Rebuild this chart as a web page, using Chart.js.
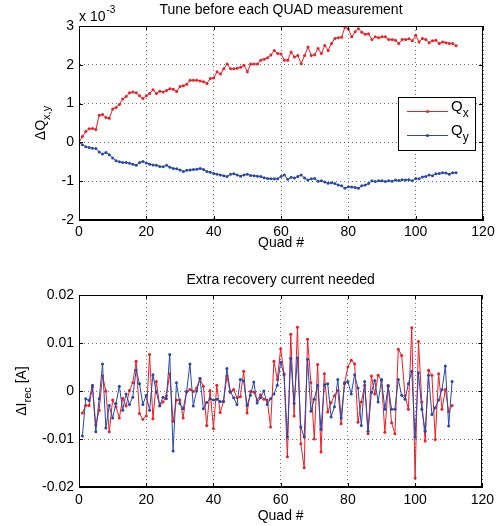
<!DOCTYPE html>
<html>
<head>
<meta charset="utf-8">
<script src="https://cdn.jsdelivr.net/npm/chart.js@4.4.1/dist/chart.umd.min.js"></script>
<style>
html, body { margin: 0; padding: 0; background: #fff; }
#wrap { position: relative; width: 499px; height: 526px; }
#wrap canvas { position: absolute; left: 0; }
</style>
</head>
<body>
<div id="wrap">
  <canvas id="tuneChart" width="499" height="263" style="top:0"></canvas>
  <canvas id="currentChart" width="499" height="263" style="top:263px"></canvas>
</div>
<script>
// Tune shift before each QUAD measurement, units of 1e-3 (quad 0..112)
const qxTune = [0, 0.15, 0.28, 0.35, 0.36, 0.33, 0.70, 0.72, 0.64, 0.62,
  0.86, 0.90, 0.98, 1.12, 1.18, 1.28, 1.30, 1.28, 1.20, 1.13,
  1.20, 1.26, 1.36, 1.26, 1.32, 1.30, 1.34, 1.38, 1.37, 1.31,
  1.44, 1.46, 1.50, 1.60, 1.60, 1.60, 1.58, 1.56, 1.52, 1.65,
  1.66, 1.82, 1.76, 1.90, 2.02, 1.90, 1.90, 1.91, 1.94, 1.99,
  1.82, 2.02, 2.02, 2.02, 2.12, 2.14, 2.18, 2.25, 2.37, 2.29,
  2.28, 2.12, 2.12, 2.33, 2.20, 2.24, 2.03, 2.24, 2.46, 2.24,
  2.26, 2.42, 2.29, 2.50, 2.37, 2.55, 2.68, 2.70, 2.71, 2.97,
  2.92, 2.72, 2.85, 2.93, 2.84, 2.79, 2.80, 2.65, 2.72, 2.70,
  2.72, 2.72, 2.65, 2.65, 2.63, 2.55, 2.65, 2.65, 2.67, 2.62,
  2.76, 2.59, 2.68, 2.65, 2.57, 2.62, 2.63, 2.55, 2.59, 2.57,
  2.55, 2.55, 2.49];
const qyTune = [0, -0.06, -0.11, -0.13, -0.15, -0.16, -0.25, -0.30, -0.26, -0.32,
  -0.40, -0.47, -0.50, -0.52, -0.52, -0.54, -0.56, -0.59, -0.52, -0.49,
  -0.53, -0.56, -0.58, -0.59, -0.62, -0.63, -0.59, -0.64, -0.67, -0.68,
  -0.71, -0.75, -0.72, -0.71, -0.70, -0.69, -0.67, -0.70, -0.75, -0.77,
  -0.80, -0.82, -0.84, -0.86, -0.88, -0.82, -0.81, -0.84, -0.87, -0.84,
  -0.82, -0.85, -0.86, -0.87, -0.88, -0.91, -0.93, -0.94, -0.94, -0.94,
  -0.88, -0.84, -0.95, -0.90, -0.92, -0.88, -0.84, -0.92, -0.97, -0.94,
  -0.93, -1.00, -0.99, -1.02, -1.05, -1.04, -1.06, -1.10, -1.12, -1.18,
  -1.14, -1.15, -1.16, -1.18, -1.12, -1.10, -1.06, -0.99, -1.01, -0.99,
  -0.99, -1.01, -0.99, -1.00, -0.97, -0.98, -0.96, -0.97, -0.96, -0.99,
  -0.93, -0.94, -0.89, -0.88, -0.84, -0.86, -0.81, -0.80, -0.78, -0.79,
  -0.82, -0.78, -0.78];

// Extra recovery current, mA (quad 1..111); red = x, blue = y
const dIrecX = [-4.6, -3.0, -3.0, 0.8, -7.1, -4.0, 3.2, 0.0, -8.5, -1.9,
  -3.3, -5.6, -1.5, -3.1, 0.1, 1.7, 6.2, -4.7, -5.9, -5.2,
  7.6, -5.8, 2.0, -3.1, -2.3, -1.0, 3.6, -6.3, -1.9, -1.9,
  -5.6, -0.1, 0.3, -0.1, 0.6, 2.6, 1.0, -7.2, 0.1, -7.8,
  1.2, -4.5, -2.2, 3.1, -0.3, 0.3, -1.4, -1.2, 4.1, -4.6,
  -0.1, -0.2, -1.9, -0.8, -1.7, -1.9, -7.5, 6.2, 2.4, 8.8,
  3.6, -13.7, 11.8, -5.2, 13.3, -11.0, -16.0, 10.8, 1.7, -10.0,
  5.5, -12.7, 3.6, -4.4, -2.4, -1.0, 0.1, -6.8, 1.5, 5.0,
  6.4, 5.7, -6.5, -2.3, 1.2, -8.9, 3.1, -0.6, 3.3, 2.2,
  -8.6, 1.2, -6.6, -8.9, 8.7, 7.4, -1.0, -3.8, 13.2, -18.1,
  10.3, -2.3, -10.4, 4.3, 3.3, -10.1, 3.6, -3.8, 0.3, -4.3,
  -3.0];
const dIrecY = [-9.4, -1.6, -2.0, 1.2, -8.5, -1.6, 5.6, -7.7, -3.0, -5.6,
  -2.6, 1.0, -4.0, -0.6, -2.8, -1.3, 4.4, 1.5, -2.8, -0.9,
  -4.0, 3.4, -0.2, -3.0, -1.3, -1.6, 7.6, -12.5, 1.7, -2.6,
  -3.7, -0.2, 5.6, -3.1, 0.0, 2.6, -3.7, -2.4, -1.6, -1.9,
  -1.7, -2.2, -2.2, 4.7, -0.1, -1.4, -2.8, 2.4, 2.1, -3.0,
  -0.9, 1.9, -2.5, -1.4, 0.0, -2.8, -1.6, -0.6, 1.2, 6.0,
  3.4, -9.6, 6.8, -2.6, 6.9, -7.5, -9.6, 6.6, -4.2, -1.7,
  1.2, -8.0, 1.3, 1.5, -5.4, -3.3, 2.4, -5.6, 1.7, 2.0,
  -0.6, 3.4, 0.6, -7.2, 2.0, -8.4, -0.3, 2.2, -2.3, 2.4,
  -3.8, 1.0, -3.8, -3.8, 2.4, -0.9, -1.7, 1.5, 4.1, -9.6,
  3.8, -3.8, -8.4, 3.3, -4.9, -3.5, -1.9, 0.3, 5.2, -7.3,
  2.0];

const FONT = '"Liberation Sans", Arial, Helvetica, sans-serif';
const RED = 'rgb(238,30,36)';
const BLUE = 'rgb(40,72,168)';

Chart.defaults.color = '#000';
Chart.defaults.font.family = FONT;
Chart.defaults.font.size = 14;

// matlab style box with inward ticks on all 4 sides
const matlabFrame = {
  id: 'matlabFrame',
  afterDatasetsDraw(chart) {
    const { ctx, chartArea: a, scales: { x, y } } = chart;
    const len = 4;
    ctx.save();
    ctx.strokeStyle = '#000';
    ctx.lineWidth = 1;
    ctx.beginPath();
    x.ticks.forEach(t => {
      const px = Math.round(x.getPixelForValue(t.value)) + 0.5;
      ctx.moveTo(px, a.bottom); ctx.lineTo(px, a.bottom - len);
      ctx.moveTo(px, a.top); ctx.lineTo(px, a.top + len);
    });
    y.ticks.forEach(t => {
      const py = Math.round(y.getPixelForValue(t.value)) + 0.5;
      ctx.moveTo(a.left, py); ctx.lineTo(a.left + len, py);
      ctx.moveTo(a.right, py); ctx.lineTo(a.right - len, py);
    });
    ctx.stroke();
    ctx.strokeRect(Math.round(a.left) + 0.5, Math.round(a.top) + 0.5,
      Math.round(a.width) - 1, Math.round(a.height) - 1);
    ctx.restore();
  }
};

// text with subscripts / superscripts that chart.js can't do itself
function drawSubText(ctx, parts, x, y) {
  let cx = x;
  parts.forEach(p => {
    ctx.font = (p.size || 14) + 'px ' + FONT;
    ctx.fillText(p.text, cx, y + (p.dy || 0));
    cx += ctx.measureText(p.text).width;
  });
  return cx;
}
function partsWidth(ctx, parts) {
  return parts.reduce((w, p) => {
    ctx.font = (p.size || 14) + 'px ' + FONT;
    return w + ctx.measureText(p.text).width;
  }, 0);
}

const extraText = {
  id: 'extraText',
  afterDraw(chart, args, opts) {
    const { ctx, chartArea: a } = chart;
    ctx.save();
    ctx.fillStyle = '#000';
    ctx.textBaseline = 'alphabetic';
    ctx.textAlign = 'left';

    // rotated y-axis label
    const w = partsWidth(ctx, opts.yLabel);
    ctx.translate(opts.yLabelX, (a.top + a.bottom) / 2);
    ctx.rotate(-Math.PI / 2);
    drawSubText(ctx, opts.yLabel, -w / 2, 5);
    ctx.setTransform(1, 0, 0, 1, 0, 0);

    if (opts.exponent) {
      const end = drawSubText(ctx, [{ text: 'x 10' }], a.left, a.top - 5);
      drawSubText(ctx, [{ text: '-3', size: 10 }], end + 1, a.top - 13);
    }

    if (opts.legend) {
      const bx = a.right - 85, by = a.top + 71, bw = 77, bh = 53;
      ctx.fillStyle = '#fff';
      ctx.fillRect(bx, by, bw, bh);
      ctx.strokeStyle = '#000';
      ctx.lineWidth = 1;
      ctx.strokeRect(bx + 0.5, by + 0.5, bw, bh);
      opts.legend.forEach((item, i) => {
        const ly = by + 14.5 + i * 24;
        ctx.strokeStyle = item.color;
        ctx.beginPath();
        ctx.moveTo(bx + 9, ly); ctx.lineTo(bx + 50, ly);
        ctx.stroke();
        ctx.fillStyle = item.color;
        ctx.beginPath();
        ctx.arc(bx + 29.5, ly, 1.6, 0, Math.PI * 2);
        ctx.fill();
        ctx.fillStyle = '#000';
        drawSubText(ctx, [{ text: item.main, size: 15 }, { text: item.sub, size: 12, dy: 6 }], bx + 53, ly - 1);
      });
    }
    ctx.restore();
  }
};

function xScale(tickPad, titlePad, height) {
  return {
    type: 'linear',
    min: 0, max: 120,
    ticks: { stepSize: 20, padding: tickPad, maxRotation: 0 },
    grid: { color: 'rgba(0,0,0,0.55)', drawTicks: false },
    border: { display: true, color: '#000', dash: [1, 3] },
    title: { display: true, text: 'Quad #', padding: { top: 0, bottom: titlePad } },
    afterFit: s => { s.height = height; }
  };
}

function yScale(min, max, step) {
  return {
    min: min, max: max,
    ticks: { stepSize: step, padding: 5 },
    grid: { color: 'rgba(0,0,0,0.55)', drawTicks: false },
    border: { display: true, color: '#000', dash: [1, 3] },
    afterFit: s => { s.width = 79; }
  };
}

const lineStyle = color => ({
  borderColor: color,
  backgroundColor: color,
  borderWidth: 1,
  pointRadius: 1.5,
  pointBorderWidth: 0,
  pointHoverRadius: 0,
  tension: 0
});

new Chart(document.getElementById('tuneChart'), {
  type: 'line',
  data: {
    datasets: [
      { label: 'Qx', data: qxTune.map((v, i) => ({ x: i, y: v })), ...lineStyle(RED) },
      { label: 'Qy', data: qyTune.map((v, i) => ({ x: i, y: v })), ...lineStyle(BLUE) }
    ]
  },
  options: {
    responsive: false,
    animation: false,
    layout: { padding: { left: 0, right: 16, top: 0, bottom: 0 } },
    scales: {
      x: xScale(4, 11.6, 43),
      y: yScale(-2, 3, 1)
    },
    plugins: {
      legend: { display: false },
      tooltip: { enabled: false },
      title: {
        display: true, fullSize: false,
        text: 'Tune before each QUAD measurement',
        font: { size: 14, weight: 'normal' },
        padding: { top: 1.6, bottom: 7.6 }
      },
      extraText: {
        yLabelX: 40,
        yLabel: [{ text: '\u0394Q' }, { text: 'x,y', size: 11, dy: 5 }],
        exponent: true,
        legend: [
          { main: 'Q', sub: 'x', color: RED },
          { main: 'Q', sub: 'y', color: BLUE }
        ]
      }
    }
  },
  plugins: [matlabFrame, extraText]
});

new Chart(document.getElementById('currentChart'), {
  type: 'line',
  data: {
    datasets: [
      { label: 'y', data: dIrecY.map((v, i) => ({ x: i + 1, y: v / 1000 })), ...lineStyle(BLUE) },
      { label: 'x', data: dIrecX.map((v, i) => ({ x: i + 1, y: v / 1000 })), ...lineStyle(RED) }
    ]
  },
  options: {
    responsive: false,
    animation: false,
    layout: { padding: { left: 0, right: 16, top: 0, bottom: 0 } },
    scales: {
      x: xScale(5, 1.6, 39),
      y: yScale(-0.02, 0.02, 0.01)
    },
    plugins: {
      legend: { display: false },
      tooltip: { enabled: false },
      title: {
        display: true, fullSize: false,
        text: 'Extra recovery current needed',
        font: { size: 14, weight: 'normal' },
        padding: { top: 8.6, bottom: 6.6 }
      },
      extraText: {
        yLabelX: 21,
        yLabel: [{ text: '\u0394I' }, { text: 'rec', size: 11, dy: 5 }, { text: ' [A]' }]
      }
    }
  },
  plugins: [matlabFrame, extraText]
});
</script>
</body>
</html>
